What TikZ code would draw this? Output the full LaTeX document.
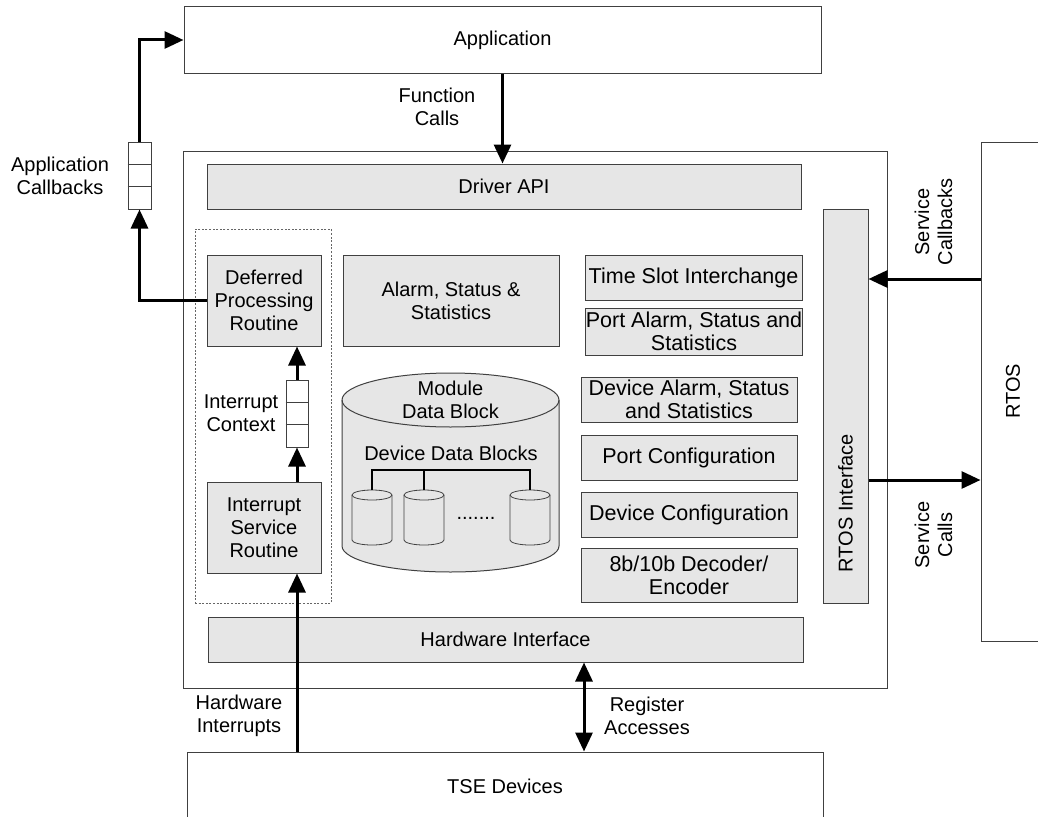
\documentclass[tikz,border=0pt]{standalone}
\usepackage{fontspec}
\setmainfont{Liberation Sans}
\usetikzlibrary{arrows.meta,calc}
\definecolor{boxgray}{RGB}{230,230,230}
\definecolor{edge}{RGB}{64,64,64}
\begin{document}
\begin{tikzpicture}[x=1pt,y=-1pt,
  every node/.style={font=\fontsize{20}{23}\selectfont, align=center, inner sep=0pt},
  frame/.style={draw=edge, line width=1pt, fill=white},
  module/.style={draw=edge, line width=1pt, fill=boxgray},
  widetext/.style={font=\fontsize{21.5}{23}\selectfont},
  queue/.style={draw=edge, line width=1pt, fill=white},
  group/.style={draw=edge!80, dash pattern=on 2pt off 1.6pt, line width=0.8pt},
  flow/.style={line width=3pt, -{Triangle[length=19pt,width=17pt]}},
  flowboth/.style={line width=3pt, {Triangle[length=19pt,width=17pt]}-{Triangle[length=19pt,width=17pt]}},
  bus/.style={line width=1.2pt},
  cyl/.style={fill=boxgray, draw=edge, line width=1pt}]
\useasboundingbox (0,0) rectangle (1038,816);
\clip (0,0) rectangle (1038,816);

% outer blocks
\node[frame, minimum width=637pt, minimum height=66pt] (app) at (502.5,40) {Application};
\node[frame, minimum width=704pt, minimum height=537pt] (drv) at (535,419.5) {};
\node[frame, minimum width=636pt, minimum height=68pt] (tse) at (505,786) {TSE Devices};
\node[frame, minimum width=64pt, minimum height=499pt] (rtos) at (1013,391.5) {};
\node[rotate=90] (rtoslbl) at (1013,391.5) {RTOS};

% driver modules
\node[module, minimum width=594pt, minimum height=45pt] (api) at (504,186.5) {Driver API};
\node[group, minimum width=136pt, minimum height=374pt] (ctx) at (263,416) {};
\node[module, minimum width=114pt, minimum height=91pt] (dpr) at (264,300.5) {Deferred\\Processing\\Routine};
\node[module, minimum width=114pt, minimum height=91pt] (isr) at (264,527.5) {Interrupt\\Service\\Routine};
\node[module, minimum width=216pt, minimum height=91pt] (ast) at (451,300.5) {Alarm, Status \&\\Statistics};
\node[module, widetext, minimum width=217pt, minimum height=45pt] (tsi) at (693.5,277.5) {Time Slot Interchange};
\node[module, widetext, minimum width=216pt, minimum height=47pt] (pas) at (694,331.5) {Port Alarm, Status and\\Statistics};
\node[module, widetext, minimum width=216pt, minimum height=45pt] (das) at (689,399.5) {Device Alarm, Status\\and Statistics};
\node[module, widetext, minimum width=216pt, minimum height=45pt] (pcfg) at (689,457.5) {Port Configuration};
\node[module, widetext, minimum width=216pt, minimum height=45pt] (dcfg) at (689,514.5) {Device Configuration};
\node[module, widetext, minimum width=216pt, minimum height=54pt] (codec) at (689,575) {8b/10b Decoder/\\Encoder};
\node[module, minimum width=45pt, minimum height=394pt] (rif) at (845.5,406) {};
\node[rotate=90] (riflbl) at (845.5,503) {RTOS Interface};
\node[module, minimum width=595pt, minimum height=45pt] (hwi) at (505.5,639.5) {Hardware Interface};

% module data block
\filldraw[cyl] (342,400) -- (342,546)
  arc[start angle=180, end angle=360, x radius=108.5pt, y radius=26pt] -- (559,400)
  arc[start angle=0, end angle=180, x radius=108.5pt, y radius=27pt] -- cycle;
\draw[edge, line width=1pt] (342,400) arc[start angle=180, end angle=360, x radius=108.5pt, y radius=27pt];
\node (mdb) at (450.5,400) {Module\\Data Block};
\node (ddb) at (451,453) {Device Data Blocks};

% device data blocks
\foreach \cx/\nm in {372/db1,424/db2,530/db3}{
  \filldraw[cyl, line width=0.8pt] (\cx-20,495) -- (\cx-20,540)
    arc[start angle=180, end angle=360, x radius=20pt, y radius=5pt] -- (\cx+20,495)
    arc[start angle=0, end angle=180, x radius=20pt, y radius=5pt] -- cycle;
  \draw[edge, line width=0.8pt] (\cx-20,495) arc[start angle=180, end angle=360, x radius=20pt, y radius=5pt];
  \coordinate (\nm) at (\cx,490);
}
\node (dots) at (476,518) {.......};
\coordinate (busline) at (450,470);
\draw[bus] (db1) -- (db1 |- busline) -- (db3 |- busline) -- (db3);
\draw[bus] (db2) -- (db2 |- busline);

% queues
\node[queue, minimum width=23pt, minimum height=67pt] (appq) at (139.5,175.5) {};
\node[queue, minimum width=22pt, minimum height=67pt] (icq) at (297,413.5) {};
\foreach \q in {appq,icq}{
  \draw[edge, line width=1pt] ($(\q.north west)!1/3!(\q.south west)$) -- ($(\q.north east)!1/3!(\q.south east)$);
  \draw[edge, line width=1pt] ($(\q.north west)!2/3!(\q.south west)$) -- ($(\q.north east)!2/3!(\q.south east)$);
}

% connectors
\draw[flow] (dpr.west) -- (dpr.west -| appq.south) -- (appq.south);
\draw[flow] (appq.north) |- (app.west);
\draw[flow] (app.south) -- (app.south |- api.north);
\draw[flow] (tse.north -| icq.south) -- (isr.south -| icq.south);
\draw[flow] (isr.north -| icq.south) -- (icq.south);
\draw[flow] (icq.north) -- (dpr.south -| icq.north);
\coordinate (regx) at (584,700);
\draw[flowboth] (hwi.south -| regx) -- (tse.north -| regx);
\coordinate (cbrow) at (930,279);
\coordinate (callrow) at (930,480);
\draw[flow] (rtos.west |- cbrow) -- (rif.east |- cbrow);
\draw[flow] (rif.east |- callrow) -- (rtos.west |- callrow);

% labels
\node (lblcb) at (60,175.5) {Application\\Callbacks};
\node (lblic) at (241,413.5) {Interrupt\\Context};
\node (lblfc) at (437,107) {Function\\Calls};
\node (lblhi) at (239,715.5) {Hardware\\Interrupts};
\node (lblra) at (647,715.5) {Register\\Accesses};
\node[rotate=90] (lblsc) at (933.5,222) {Service\\Callbacks};
\node[rotate=90] (lblcl) at (933.5,535) {Service\\Calls};
\end{tikzpicture}
\end{document}
